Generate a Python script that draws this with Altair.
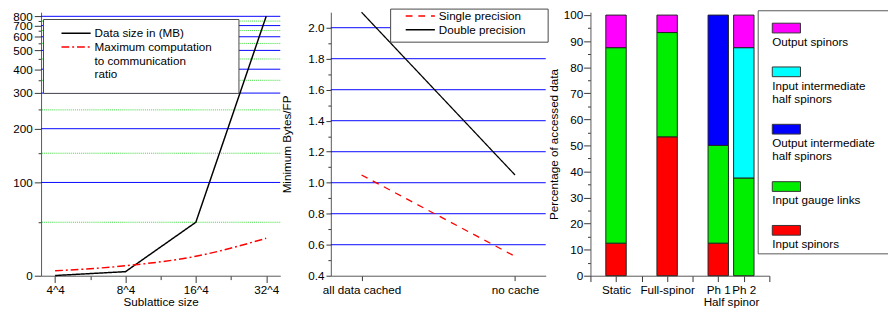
import json
import altair as alt
import pandas as pd

FONT = "Liberation Sans"
DOMAIN_GREY = "#555555"
TICK_GREY = "#333333"

# ---------------- left panel data ----------------
sublattice_sizes = ["4^4", "8^4", "16^4", "32^4"]
data_size_mb = [0.2, 3.8, 50.0, 800.0]
max_comp_to_comm = [4.6, 9.3, 18.2, 35.0]
left_series = ["Data size in (MB)", "Maximum computation to communication ratio"]
left_series_lines = [["Data size in (MB)"], ["Maximum computation", "to communication", "ratio"]]
left_y_ticks = [0, 50, 100, 150, 200, 250, 300, 350, 400, 450, 500, 550, 600, 650, 700, 750, 800]
left_blue_grid = [100, 200, 300, 400, 500, 600, 700, 800]
left_green_grid = [50, 150, 250, 350, 450, 550, 650, 750]
left_x_ticks = [0, 0.5, 1, 1.5, 2, 2.5, 3]
# the original value axis is non-linear: tick value -> distance from the plot top,
# as read off the reference (whose plot was 276 px tall)
left_axis_values = [0, 50, 100, 150, 200, 250, 300, 350, 400, 450, 500, 550, 600, 650, 700, 750, 800, 843]
left_axis_ref_px = [276, 220, 178.3, 147.7, 122, 102.3, 84.7, 71.3, 59.7, 49, 40, 32.7, 25.7, 19.2, 14, 9.3, 4.3, 0]
REF_H = 276

# ---------------- middle panel data ----------------
cache_modes = ["all data cached", "no cache"]
single_precision = [1.05, 0.525]
double_precision = [2.10, 1.05]
mid_series = ["Single precision", "Double precision"]
mid_y_ticks = [0.4, 0.5, 0.6, 0.7, 0.8, 0.9, 1.0, 1.1, 1.2, 1.3, 1.4, 1.5, 1.6, 1.7, 1.8, 1.9, 2.0]
mid_blue_grid = [0.6, 0.8, 1.0, 1.2, 1.4, 1.6, 1.8, 2.0]

# ---------------- right panel data ----------------
kernel_slots = ["", "Static", " ", "Full-spinor", "  ", "Ph 1", "Ph 2", "   "]
kernels = ["Static", "Full-spinor", "Ph 1", "Ph 2"]
components = ["Input spinors", "Input gauge links", "Output intermediate half spinors",
              "Input intermediate half spinors", "Output spinors"]  # bottom to top
component_colors = ["#ff0000", "#00ee00", "#0000ff", "#00ffff", "#ff00ff"]
static_pct = [12.5, 75.0, 0.0, 0.0, 12.5]
full_spinor_pct = [53.3, 40.0, 0.0, 0.0, 6.7]
ph1_pct = [12.5, 37.5, 50.0, 0.0, 0.0]
ph2_pct = [0.0, 37.5, 0.0, 50.0, 12.5]
component_lines = [["Input spinors"], ["Input gauge links"], ["Output intermediate", "half spinors"],
                   ["Input intermediate", "half spinors"], ["Output spinors"]]
right_y_ticks = list(range(0, 101, 5))

H = 271
LEFT_W, MID_W, RIGHT_W = 246, 221, 184


def multiline_expr(names, lines):
    expr = "[datum.label]"
    for name, ls in zip(names, lines):
        expr = f"datum.label === {json.dumps(name)} ? {json.dumps(ls)} : ({expr})"
    return expr


def tick_size(minor_test, minor, major):
    return {"condition": {"test": minor_test, "value": minor}, "value": major}


# ================= LEFT =================
left_df = pd.DataFrame({
    "idx": list(range(len(sublattice_sizes))) * 2,
    "value": data_size_mb + max_comp_to_comm,
    "series": [left_series[0]] * len(data_size_mb) + [left_series[1]] * len(max_comp_to_comm),
})
left_y = alt.Scale(domain=left_axis_values, range=[v * H / REF_H for v in left_axis_ref_px],
                   nice=False, zero=False)
left_x = alt.Scale(domain=[-0.2, len(sublattice_sizes) - 0.8], nice=False, zero=False)
left_y_axis = alt.Axis(orient="left", values=left_y_ticks, labelPadding=2, title=None,
                       labelExpr="datum.value % 100 === 0 ? datum.label : ''",
                       tickSize=tick_size("datum.value % 100 !== 0", 3, 7))
size_expr = f"datum.value % 1 === 0 ? {json.dumps(sublattice_sizes)}[datum.value] : ''"
left_x_axis = alt.Axis(orient="bottom", values=left_x_ticks, labelExpr=size_expr, labelPadding=2,
                       tickSize=tick_size("datum.value % 1 !== 0", 4, 7),
                       title="Sublattice size", titlePadding=2)

left_legend = alt.Legend(
    title=None, orient="none", legendX=2, legendY=7, padding=13,
    strokeColor="#444444", fillColor="white",
    symbolType="M166,-4.3M0,-4.3H30", symbolSize=4, symbolStrokeWidth=1.5,
    symbolOffset=0, labelOffset=28, labelBaseline="alphabetic", rowPadding=2, labelLimit=400,
    labelExpr=multiline_expr(left_series, left_series_lines),
)
left_color = alt.Color("series:N", scale=alt.Scale(domain=left_series, range=["#000000", "#ff0000"]),
                       legend=left_legend)
left_dash = alt.StrokeDash("series:N", scale=alt.Scale(domain=left_series, range=[[1, 0], [8, 3, 2, 3]]),
                           legend=left_legend)

left_green = alt.Chart(pd.DataFrame({"v": left_green_grid})).mark_rule(
    color="#33dd33", strokeDash=[1, 1], strokeWidth=1).encode(
    y=alt.Y("v:Q", scale=left_y, axis=left_y_axis))
left_blue = alt.Chart(pd.DataFrame({"v": left_blue_grid})).mark_rule(
    color="#0000ff", strokeWidth=1).encode(
    y=alt.Y("v:Q", scale=left_y, axis=left_y_axis))
left_line1 = alt.Chart(left_df).transform_filter(alt.datum.series == left_series[0]).mark_line(
    strokeWidth=1.5).encode(
    x=alt.X("idx:Q", scale=left_x, axis=left_x_axis),
    y=alt.Y("value:Q", scale=left_y, axis=left_y_axis),
    color=left_color, strokeDash=left_dash)
left_line2 = alt.Chart(left_df).transform_filter(alt.datum.series == left_series[1]).mark_line(
    strokeWidth=1.5, interpolate="monotone").encode(
    x=alt.X("idx:Q", scale=left_x, axis=left_x_axis),
    y=alt.Y("value:Q", scale=left_y, axis=left_y_axis),
    color=left_color, strokeDash=left_dash)

left = alt.layer(left_green, left_blue, left_line1, left_line2).properties(width=LEFT_W, height=H)

# ================= MIDDLE =================
mid_df = pd.DataFrame({
    "mode": cache_modes * 2,
    "value": single_precision + double_precision,
    "series": [mid_series[0]] * 2 + [mid_series[1]] * 2,
})
mid_y = alt.Scale(domain=[0.4, 2.1], nice=False, zero=False)
mid_y_axis = alt.Axis(orient="left", values=mid_y_ticks, labelPadding=2,
                      labelExpr="round(datum.value * 10) % 2 === 0 ? format(datum.value, '.1f') : ''",
                      tickSize=tick_size("round(datum.value * 10) % 2 !== 0", 3, 5),
                      title="Minimum Bytes/FP", titlePadding=15)
mid_legend = alt.Legend(
    title=None, orient="none", legendX=61, legendY=-3.7, padding=6,
    strokeColor="#444444", fillColor="white", symbolType="M141,-4.3M4,-4.3H34", symbolSize=4,
    symbolStrokeWidth=1.5, symbolOffset=0, labelOffset=32, labelBaseline="alphabetic", rowPadding=2,
    labelLimit=400,
)
mid_grid = alt.Chart(pd.DataFrame({"v": mid_blue_grid})).mark_rule(
    color="#0000ff", strokeWidth=1).encode(
    y=alt.Y("v:Q", scale=mid_y, axis=mid_y_axis))
mid_lines = alt.Chart(mid_df).mark_line(strokeWidth=1.3).encode(
    x=alt.X("mode:N", scale=alt.Scale(type="point", domain=cache_modes, padding=0.2),
            axis=alt.Axis(orient="bottom", tickSize=5, labelPadding=4, labelAngle=0, title=None)),
    y=alt.Y("value:Q", scale=mid_y, axis=mid_y_axis),
    color=alt.Color("series:N", scale=alt.Scale(domain=mid_series, range=["#ff0000", "#000000"]),
                    legend=mid_legend),
    strokeDash=alt.StrokeDash("series:N", scale=alt.Scale(domain=mid_series, range=[[7, 6], [1, 0]]),
                              legend=mid_legend),
)
mid = alt.layer(mid_grid, mid_lines).properties(width=MID_W, height=H)

# ================= RIGHT =================
pct_table = [static_pct, full_spinor_pct, ph1_pct, ph2_pct]
rows = []
for kernel, pcts in zip(kernels, pct_table):
    for k, (comp, p) in enumerate(zip(components, pcts)):
        if p > 0:
            rows.append({"kernel": kernel, "component": comp, "pct": p, "order": k})
bar_df = pd.DataFrame(rows)
right_y = alt.Scale(domain=[0, 101.1], nice=False, zero=False)

legend_order = components[::-1]
legend_colors = component_colors[::-1]
legend_lines = component_lines[::-1]
# the swatch is drawn above the entry anchor so that the label sits underneath it
comp_legend = alt.Legend(
    title=" ", titleFontSize=12, titlePadding=6.5, orient="none", legendX=172, legendY=-2, padding=3,
    strokeColor="#555555", fillColor="white",
    symbolType="M144,-14.2M6,-14.2H35V-4.2H6Z", symbolSize=4, symbolStrokeColor="#333333",
    symbolStrokeWidth=1, symbolOffset=0, symbolOpacity=1, labelOffset=0, labelBaseline="top",
    rowPadding=17, labelLimit=400, labelExpr=multiline_expr(legend_order, legend_lines),
)
right = alt.Chart(bar_df).mark_bar(size=21, stroke="#222222", strokeWidth=1).encode(
    x=alt.X("kernel:N", scale=alt.Scale(type="point", domain=kernel_slots, padding=0),
            axis=alt.Axis(orient="bottom", values=kernel_slots, tickSize=6, labelPadding=3, labelAngle=0,
                          title="Half spinor", titlePadding=2, titleX=RIGHT_W * 5.5 / 7)),
    y=alt.Y("pct:Q", stack="zero", scale=right_y,
            axis=alt.Axis(orient="left", values=right_y_ticks, labelPadding=1,
                          labelExpr="datum.value % 10 === 0 ? datum.label : ''",
                          tickSize=tick_size("datum.value % 10 !== 0", 3, 7),
                          title="Percentage of accessed data", titlePadding=3)),
    color=alt.Color("component:N", scale=alt.Scale(domain=legend_order, range=legend_colors),
                    legend=comp_legend),
    order=alt.Order("order:Q", sort="ascending"),
).properties(width=RIGHT_W, height=H)

chart = alt.hconcat(left, mid, right, spacing=-2).resolve_scale(
    color="independent", strokeDash="independent"
).properties(
    padding={"left": 4, "top": -5, "right": -25, "bottom": 0}
).configure_view(stroke="transparent").configure_axis(
    labelFont=FONT, labelFontSize=12, labelColor="#000000", labelOverlap=False,
    titleFont=FONT, titleFontSize=12, titleFontWeight="normal", titleColor="#000000",
    domainColor=DOMAIN_GREY, tickColor=TICK_GREY, grid=False,
).configure_legend(
    labelFont=FONT, labelFontSize=12, labelColor="#000000",
)

chart.save("out.html", embed_options={"renderer": "svg", "actions": False})
